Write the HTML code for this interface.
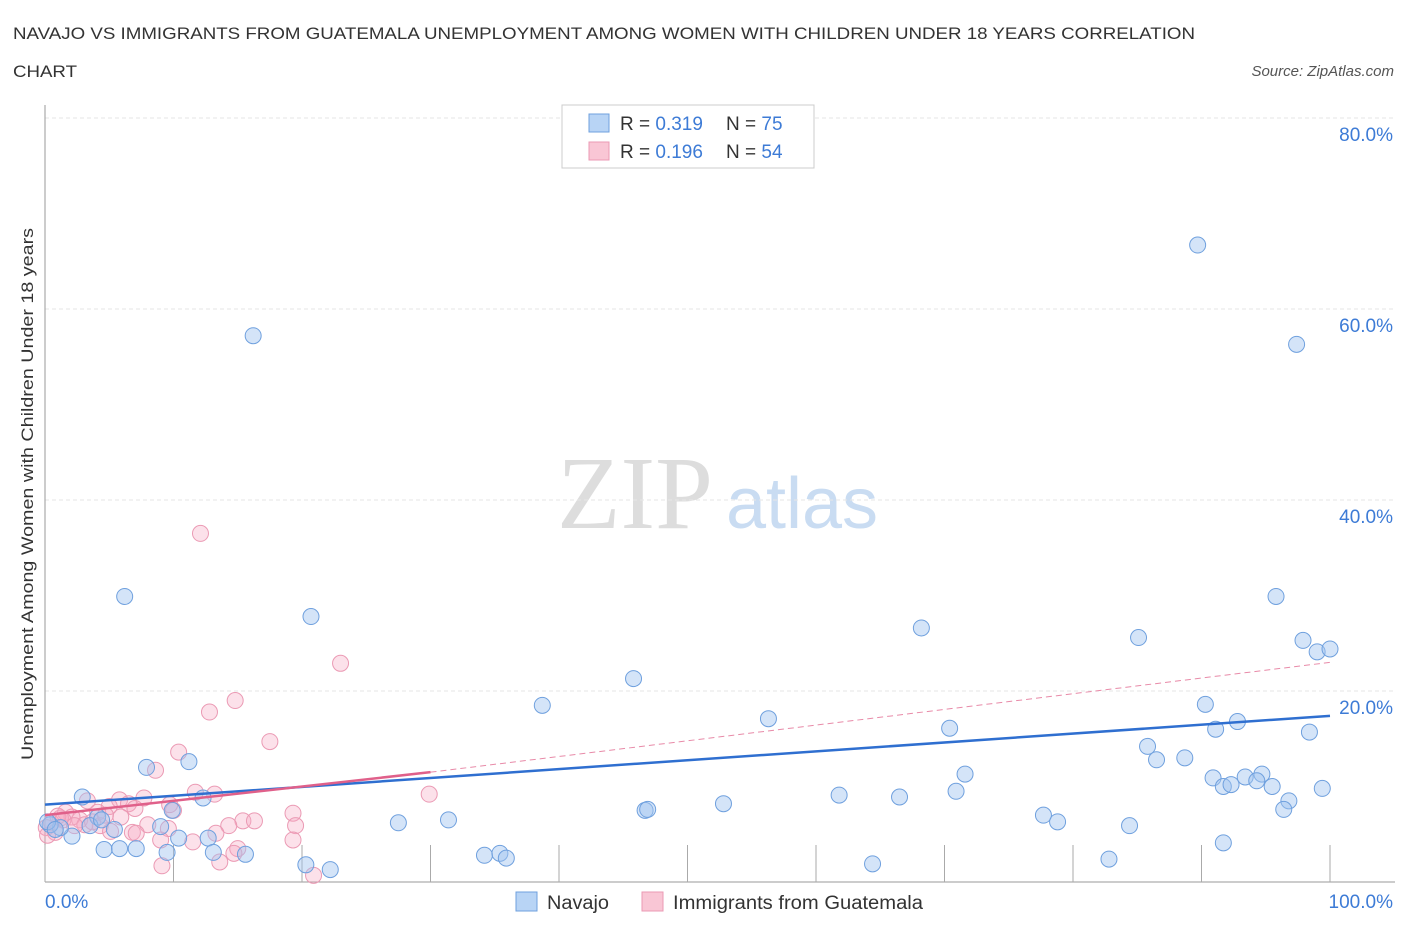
<!DOCTYPE html>
<html><head><meta charset="utf-8"><style>
body{margin:0;background:#fff;font-family:"Liberation Sans",sans-serif;}
svg{display:block}
</style></head><body>
<svg id="c" width="1406" height="930" xmlns="http://www.w3.org/2000/svg">
<text x="13" y="39" font-size="17" fill="#333" textLength="1182" lengthAdjust="spacingAndGlyphs">NAVAJO VS IMMIGRANTS FROM GUATEMALA UNEMPLOYMENT AMONG WOMEN WITH CHILDREN UNDER 18 YEARS CORRELATION</text>
<text x="13" y="77" font-size="17" fill="#333" textLength="64" lengthAdjust="spacingAndGlyphs">CHART</text>
<text x="1394" y="76" font-size="15" fill="#555" font-style="italic" text-anchor="end">Source: ZipAtlas.com</text>
<text x="635" y="528" font-size="104" fill="#ddd" font-family="Liberation Serif,serif" text-anchor="middle">ZIP</text>
<text x="802" y="528" font-size="72" fill="#c9dcf2" text-anchor="middle">atlas</text>
<text transform="translate(33,494) rotate(-90)" font-size="17" fill="#333" text-anchor="middle" textLength="532" lengthAdjust="spacingAndGlyphs">Unemployment Among Women with Children Under 18 years</text>
<g id="grid"></g><g id="marks"></g>
<g>
<rect x="562" y="105" width="252" height="63" fill="#fff" stroke="#ccc"/>
<rect x="589" y="114" width="20" height="18" fill="#b8d4f5" stroke="#6fa0de"/>
<rect x="589" y="142" width="20" height="18" fill="#f9c6d5" stroke="#eb9ab4"/>
<text x="620" y="130" font-size="19" fill="#333">R = <tspan fill="#3d7bd6">0.319</tspan><tspan x="726">N = </tspan><tspan fill="#3d7bd6">75</tspan></text>
<text x="620" y="158" font-size="19" fill="#333">R = <tspan fill="#3d7bd6">0.196</tspan><tspan x="726">N = </tspan><tspan fill="#3d7bd6">54</tspan></text>
</g>
<g>
<rect x="516" y="892" width="21" height="19" fill="#b8d4f5" stroke="#6fa0de"/>
<text x="547" y="909" font-size="19" fill="#333" textLength="62" lengthAdjust="spacingAndGlyphs">Navajo</text>
<rect x="642" y="892" width="21" height="19" fill="#f9c6d5" stroke="#eb9ab4"/>
<text x="673" y="909" font-size="19" fill="#333" textLength="250" lengthAdjust="spacingAndGlyphs">Immigrants from Guatemala</text>
</g>
</svg>
<script>
const yTicks=[20,40,60,80];
const yTickLabels=["20.0%","40.0%","60.0%","80.0%"];
const xTickValues=[0,10,20,30,40,50,60,70,80,90,100];
const navX=[89.7,97.4,16.2,6.2,20.7,95.8,68.2,85.1,97.9,99.0,100,45.8,38.7,90.3,56.3,92.8,91.1,70.4,98.4,11.2,7.9,85.8,86.5,88.7,71.6,90.9,93.4,94.7,94.3,91.7,92.3,95.5,99.4,96.8,96.4,70.9,61.8,66.5,52.8,46.7,46.9,31.4,27.5,77.7,78.8,84.4,91.7,82.8,64.4,12.3,2.9,9.9,10.4,12.7,9.0,5.4,4.1,3.5,2.1,1.2,0.4,0.2,0.8,4.6,5.8,7.1,9.5,13.1,15.6,34.2,35.4,35.9,20.3,22.2,4.4];
const navY=[66.7,56.3,57.2,29.9,27.8,29.9,26.6,25.6,25.3,24.1,24.4,21.3,18.5,18.6,17.1,16.8,16.0,16.1,15.7,12.6,12.0,14.2,12.8,13.0,11.3,10.9,11.0,11.3,10.6,10.0,10.2,10.0,9.8,8.5,7.6,9.5,9.1,8.9,8.2,7.5,7.6,6.5,6.2,7.0,6.3,5.9,4.1,2.4,1.9,8.8,8.9,7.5,4.6,4.6,5.8,5.5,6.8,5.9,4.8,5.7,6.0,6.3,5.5,3.4,3.5,3.5,3.1,3.1,2.9,2.8,3.0,2.5,1.8,1.3,6.5];
const guaX=[12.1,23.0,14.8,12.8,17.5,10.4,8.6,11.7,13.2,7.7,5.8,3.3,6.5,7.0,5.0,4.1,1.6,10.0,9.7,19.3,29.9,19.5,15.4,16.3,14.3,13.3,8.0,5.9,9.6,4.3,2.7,2.1,1.2,0.5,0.1,5.1,6.8,7.1,11.5,9.0,15.0,14.7,19.3,13.6,9.1,20.9,1.0,1.4,3.1,2.3,0.8,0.2,3.7,4.7];
const guaY=[36.5,22.9,19.0,17.8,14.7,13.6,11.7,9.4,9.2,8.8,8.6,8.5,8.2,7.7,7.9,7.3,7.3,7.5,8.1,7.2,9.2,5.9,6.4,6.4,5.9,5.1,6.0,6.8,5.6,5.9,6.5,6.8,6.7,6.2,5.7,5.3,5.2,5.1,4.2,4.4,3.5,3.0,4.4,2.1,1.7,0.7,6.9,6.5,6.0,5.9,5.2,4.9,6.3,7.0];
const navLine=[[0,8.1],[100,17.4]];
const guaSolid=[[0,7.0],[30,11.5]];
const guaDash=[[30,11.5],[100,23.0]];
const X=v=>45+v*12.85, Y=v=>882-v*9.55;
const NS="http://www.w3.org/2000/svg";
function mk(t,a,p){const e=document.createElementNS(NS,t);for(const k in a)e.setAttribute(k,a[k]);p.appendChild(e);return e;}
const grid=document.getElementById('grid'),marks=document.getElementById('marks');
yTicks.forEach((v,i)=>{
 const l=mk('line',{x1:45,x2:1395,y1:Y(v),y2:Y(v),stroke:'#e6e6e6','stroke-dasharray':'4,3'},grid);
 
 
 const t=mk('text',{x:1393,y:Y(v)+23,'font-size':19,fill:'#3d7bd6','text-anchor':'end'},grid);
 t.textContent=yTickLabels[i];
 
 
});
const ax=mk('line',{x1:45,x2:1395,y1:882,y2:882,stroke:'#999'},grid);


const ay=mk('line',{x1:45,x2:45,y1:105,y2:882,stroke:'#999'},grid);


xTickValues.forEach(v=>{
 const l=mk('line',{x1:X(v),x2:X(v),y1:845,y2:882,stroke:'#aaa'},grid);
 
 
});
const xl=mk('text',{x:45,y:908,'font-size':19,fill:'#3d7bd6'},grid);xl.textContent='0.0%';


const xr=mk('text',{x:1393,y:908,'font-size':19,fill:'#3d7bd6','text-anchor':'end'},grid);xr.textContent='100.0%';


guaX.forEach((x,i)=>{
 const c=mk('circle',{cx:X(x),cy:Y(guaY[i]),r:8,fill:'rgba(245,170,195,0.35)',stroke:'#eb9ab4','stroke-width':1},marks);
 
 
});
navX.forEach((x,i)=>{
 const c=mk('circle',{cx:X(x),cy:Y(navY[i]),r:8,fill:'rgba(160,196,240,0.45)',stroke:'#6fa0de','stroke-width':1},marks);
 
 
});
const nl=mk('line',{x1:X(navLine[0][0]),y1:Y(navLine[0][1]),x2:X(navLine[1][0]),y2:Y(navLine[1][1]),stroke:'#2f6fd0','stroke-width':2.5},marks);


const gs=mk('line',{x1:X(guaSolid[0][0]),y1:Y(guaSolid[0][1]),x2:X(guaSolid[1][0]),y2:Y(guaSolid[1][1]),stroke:'#e0608a','stroke-width':2.5},marks);


const gd=mk('line',{x1:X(guaDash[0][0]),y1:Y(guaDash[0][1]),x2:X(guaDash[1][0]),y2:Y(guaDash[1][1]),stroke:'#e88aa8','stroke-width':1,'stroke-dasharray':'6,4'},marks);


</script>
</body></html>
